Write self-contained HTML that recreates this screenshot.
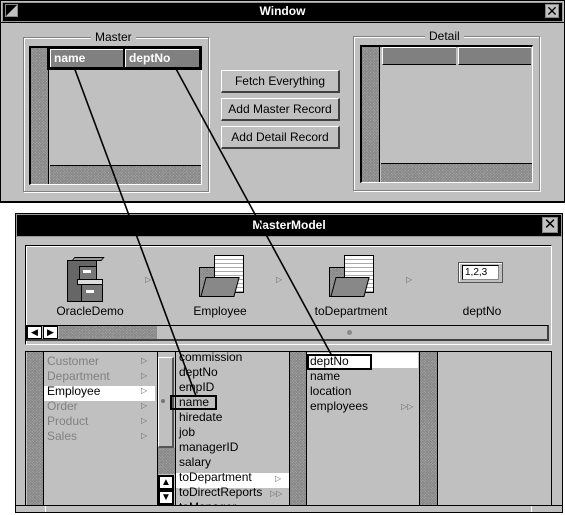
<!DOCTYPE html>
<html><head><style>
*{margin:0;padding:0;box-sizing:border-box}
body{width:565px;height:515px;background:#fff;position:relative;overflow:hidden;font-family:"Liberation Sans",sans-serif;font-size:12px;color:#000}
div,span{position:absolute}
.g{background:#c0c0c0}
.st{background-color:#a8a8a8;background-image:repeating-linear-gradient(45deg,#888 0 1px,transparent 1px 2px),repeating-linear-gradient(-45deg,#888 0 1px,transparent 1px 2px)}
.btn{background:#c0c0c0;border-top:1px solid #fff;border-left:1px solid #fff;border-right:2px solid #404040;border-bottom:2px solid #404040;text-align:center;line-height:21px;font-size:12px}
.grp{border:1px solid #808080;box-shadow:inset 1px 1px 0 #fff,1px 1px 0 #fff}
.lbl{background:#c0c0c0;padding:0 4px;line-height:12px}
.hd{background:#808080;color:#fff;font-weight:bold;border-top:1px solid #fff;border-left:1px solid #fff;padding-left:3px;line-height:17px}
.row{line-height:15px;height:15px;white-space:nowrap}
.gr{color:#808080}
.ar{font-size:8px;color:#666}
</style></head><body>
<!-- Window -->
<div style="left:0;top:0;width:565px;height:203px;background:#c0c0c0;border:1px solid #000;border-bottom:2px solid #000"></div>
<div style="left:2px;top:2px;width:561px;height:20px;background:#000;border:1px solid #999"></div>
<div style="left:5px;top:4px;width:13px;height:13px;background:#c0c0c0;border:1px solid #888"><div style="left:0;top:0;width:0;height:0;border-top:11px solid #000;border-right:11px solid transparent"></div></div>
<div style="left:0;top:4px;width:565px;text-align:center;color:#fff;font-weight:bold;line-height:15px">Window</div>
<div style="left:545px;top:4px;width:14px;height:14px;background:#c0c0c0;border:1px solid #888;font-size:14px;line-height:12px;text-align:center">✕</div>
<div style="left:0;top:22px;width:565px;height:1px;background:#000"></div>

<div class="grp" style="left:23px;top:37px;width:186px;height:155px"></div>
<div class="lbl" style="left:91px;top:31px">Master</div>
<div style="left:29px;top:46px;width:173px;height:139px;border:2px solid #000;border-right:1px solid #fff;border-bottom:1px solid #fff;background:#c0c0c0"></div>
<div class="st" style="left:31px;top:48px;width:18px;height:136px;border-right:1px solid #000"></div>
<div style="left:47px;top:46px;width:155px;height:24px;background:#000"></div>
<div class="hd" style="left:50px;top:49px;width:73px;height:18px">name</div>
<div class="hd" style="left:125px;top:49px;width:74px;height:18px">deptNo</div>
<div class="st" style="left:50px;top:165px;width:151px;height:19px;border-top:1px solid #000"></div>

<div class="btn" style="left:221px;top:70px;width:119px;height:23px">Fetch Everything</div>
<div class="btn" style="left:221px;top:98px;width:119px;height:23px">Add Master Record</div>
<div class="btn" style="left:221px;top:126px;width:119px;height:23px">Add Detail Record</div>

<div class="grp" style="left:353px;top:36px;width:187px;height:155px"></div>
<div class="lbl" style="left:425px;top:30px">Detail</div>
<div style="left:360px;top:45px;width:173px;height:138px;border:2px solid #000;border-right:1px solid #fff;border-bottom:1px solid #fff;background:#c0c0c0"></div>
<div class="st" style="left:362px;top:47px;width:18px;height:135px;border-right:1px solid #000"></div>
<div class="hd" style="left:382px;top:47px;width:74px;height:18px;border-bottom:1px solid #000"></div>
<div class="hd" style="left:458px;top:47px;width:73px;height:18px;border-bottom:1px solid #000"></div>
<div class="st" style="left:381px;top:163px;width:151px;height:19px;border-top:1px solid #000"></div>

<!-- MasterModel -->
<div style="left:15px;top:213px;width:548px;height:300px;background:#c0c0c0;border:1px solid #000"></div>
<div style="left:16px;top:214px;width:546px;height:23px;background:#000;border:1px solid #999"></div>
<div style="left:15px;top:218px;width:548px;text-align:center;color:#fff;font-weight:bold;line-height:15px">MasterModel</div>
<div style="left:542px;top:217px;width:16px;height:16px;background:#c0c0c0;border:1px solid #888;font-size:15px;line-height:14px;text-align:center">✕</div>

<div style="left:25px;top:245px;width:527px;height:100px;border:1px solid #000;border-right-color:#fff;border-bottom-color:#fff;box-shadow:inset 1px 1px 0 #fff"></div>
<!-- cabinet -->
<div style="left:67px;top:257px;width:36px;height:45px">
<div style="left:6px;top:0;width:30px;height:4px;background:#999;border:1px solid #000;transform:skewX(-40deg)"></div>
<div style="left:0;top:3px;width:30px;height:42px;background:#666;border:1px solid #000"></div>
<div style="left:12px;top:9px;width:18px;height:14px;background:#777;border:1px solid #000"></div>
<div style="left:16px;top:13px;width:8px;height:3px;background:#fff"></div>
<div style="left:10px;top:22px;width:26px;height:6px;background:#ddd;border:1px solid #000"></div>
<div style="left:14px;top:27px;width:22px;height:18px;background:#777;border:1px solid #000"></div>
<div style="left:19px;top:33px;width:8px;height:3px;background:#fff"></div>
</div>
<!-- folders -->
<div style="left:199px;top:255px;width:46px;height:45px">
<div style="left:15px;top:0;width:30px;height:38px;background:#fff;border:1px solid #000;background-image:repeating-linear-gradient(0deg,#aaa 0 1px,transparent 1px 4px)"></div>
<div class="st" style="left:0;top:12px;width:16px;height:30px;border:1px solid #000"></div>
<div class="st" style="left:4px;top:22px;width:34px;height:20px;border:1px solid #000;transform:skewX(-15deg);background-color:#888"></div>
</div>
<div style="left:329px;top:255px;width:46px;height:45px">
<div style="left:15px;top:0;width:30px;height:38px;background:#fff;border:1px solid #000;background-image:repeating-linear-gradient(0deg,#aaa 0 1px,transparent 1px 4px)"></div>
<div class="st" style="left:0;top:12px;width:16px;height:30px;border:1px solid #000"></div>
<div class="st" style="left:4px;top:22px;width:34px;height:20px;border:1px solid #000;transform:skewX(-15deg);background-color:#888"></div>
</div>
<div style="left:458px;top:262px;width:45px;height:21px;background:#c0c0c0;border:1px solid #555;box-shadow:inset 1px 1px 0 #fff"></div>
<div style="left:462px;top:265px;width:37px;height:15px;background:#fff;border:1px solid #000;border-right-color:#888;border-bottom-color:#888;font-size:10px;line-height:13px;padding-left:2px">1,2,3</div>
<span class="ar" style="left:145px;top:275px">▷</span>
<span class="ar" style="left:276px;top:275px">▷</span>
<span class="ar" style="left:406px;top:275px">▷</span>
<div style="left:40px;top:304px;width:100px;text-align:center">OracleDemo</div>
<div style="left:170px;top:304px;width:100px;text-align:center">Employee</div>
<div style="left:301px;top:304px;width:100px;text-align:center">toDepartment</div>
<div style="left:432px;top:304px;width:100px;text-align:center">deptNo</div>
<!-- scrollbar -->
<div style="left:26px;top:325px;width:523px;height:16px;background:#c0c0c0;border:1px solid #000;border-right:2px solid #404040;border-bottom:2px solid #404040"></div>
<div style="left:27px;top:326px;width:15px;height:13px;background:#fff;border:1px solid #000;font-size:9px;line-height:11px;text-align:center">◀</div>
<div style="left:43px;top:326px;width:15px;height:13px;background:#fff;border:1px solid #000;font-size:9px;line-height:11px;text-align:center">▶</div>
<div class="st" style="left:59px;top:326px;width:98px;height:13px"></div>
<div style="left:347px;top:330px;width:5px;height:5px;border-radius:50%;background:#888"></div>

<!-- browser -->
<div style="left:25px;top:351px;width:527px;height:155px;border:1px solid #000;background:#c0c0c0"></div>
<div class="st" style="left:27px;top:352px;width:17px;height:153px;border-right:1px solid #000"></div>
<div style="left:44px;top:386px;width:111px;height:15px;background:#fff"></div>
<div class="row gr" style="left:47px;top:354px">Customer</div>
<div class="row gr" style="left:47px;top:369px">Department</div>
<div class="row" style="left:47px;top:384px">Employee</div>
<div class="row gr" style="left:47px;top:399px">Order</div>
<div class="row gr" style="left:47px;top:414px">Product</div>
<div class="row gr" style="left:47px;top:429px">Sales</div>
<span class="ar" style="left:141px;top:356px">▷</span><span class="ar" style="left:141px;top:371px">▷</span><span class="ar" style="left:141px;top:386px">▷</span><span class="ar" style="left:141px;top:401px">▷</span><span class="ar" style="left:141px;top:416px">▷</span><span class="ar" style="left:141px;top:431px">▷</span>
<div style="left:157px;top:352px;width:19px;height:153px;border-left:1px solid #000;border-right:1px solid #000"></div>
<div style="left:158px;top:357px;width:16px;height:91px;background:#c0c0c0;border:1px solid #fff;border-right:2px solid #555;border-bottom:2px solid #555"></div>
<div style="left:161px;top:399px;width:4px;height:4px;border-radius:50%;background:#777"></div>
<div class="st" style="left:158px;top:448px;width:17px;height:26px"></div>
<div style="left:158px;top:475px;width:16px;height:15px;background:#fff;border:2px solid #000;font-size:10px;line-height:11px;text-align:center">▲</div>
<div style="left:158px;top:490px;width:16px;height:15px;background:#fff;border:2px solid #000;font-size:10px;line-height:11px;text-align:center">▼</div>
<div style="left:176px;top:352px;width:113px;height:153px;overflow:hidden">
<div style="left:0;top:121px;width:113px;height:15px;background:#fff"></div>
<div class="row" style="left:3px;top:-2px">commission</div>
<div class="row" style="left:3px;top:13px">deptNo</div>
<div class="row" style="left:3px;top:28px">empID</div>
<div class="row" style="left:3px;top:43px">name</div>
<div class="row" style="left:3px;top:58px">hiredate</div>
<div class="row" style="left:3px;top:73px">job</div>
<div class="row" style="left:3px;top:88px">managerID</div>
<div class="row" style="left:3px;top:103px">salary</div>
<div class="row" style="left:3px;top:118px">toDepartment</div>
<div class="row" style="left:3px;top:133px">toDirectReports</div>
<div class="row" style="left:3px;top:148px">toManager</div>
<span class="ar" style="left:99px;top:122px">▷</span>
<span class="ar" style="left:94px;top:137px">▷▷</span>
</div>
<div style="left:170px;top:395px;width:47px;height:15px;border:2px solid #000"></div>
<div class="st" style="left:289px;top:352px;width:18px;height:153px;border-left:1px solid #000;border-right:1px solid #000"></div>
<div style="left:307px;top:353px;width:111px;height:15px;background:#fff"></div>
<div style="left:307px;top:354px;width:65px;height:16px;border:2px solid #000"></div>
<div class="row" style="left:310px;top:354px">deptNo</div>
<div class="row" style="left:310px;top:369px">name</div>
<div class="row" style="left:310px;top:384px">location</div>
<div class="row" style="left:310px;top:399px">employees</div>
<span class="ar" style="left:401px;top:402px">▷▷</span>
<div class="st" style="left:419px;top:352px;width:19px;height:153px;border-left:1px solid #000;border-right:1px solid #000"></div>
<div style="left:16px;top:505px;width:546px;height:1px;background:#000"></div>
<div style="left:45px;top:506px;width:1px;height:6px;background:#fff"></div>
<div style="left:531px;top:506px;width:1px;height:6px;background:#fff"></div>

<svg width="565" height="515" style="position:absolute;left:0;top:0">
<line x1="74" y1="67" x2="196" y2="396" stroke="#000" stroke-width="1.6"/>
<line x1="175" y1="67" x2="332" y2="356" stroke="#000" stroke-width="1.6"/>
</svg>
</body></html>
